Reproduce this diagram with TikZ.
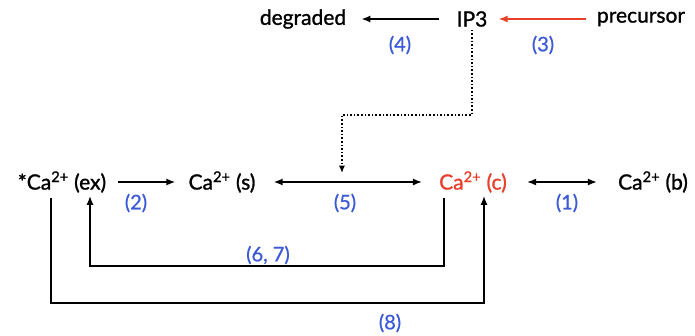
\documentclass[tikz,border=0pt]{standalone}
\usepackage{fontspec}
\setmainfont{Lato}
\newfontfamily\poolfont{Lato}[FakeBold=1.2]
\newfontfamily\ratefont{Lato}[FakeBold=0.8]
\usetikzlibrary{positioning,arrows.meta,calc}
\definecolor{ratecol}{RGB}{60,90,215}
\definecolor{cytcol}{RGB}{232,64,44}
\tikzset{
  flowarrow/.style={-{Latex[length=3.2mm,width=2.5mm]}, line width=1.6pt},
  twoarrow/.style={{Latex[length=3.2mm,width=2.5mm]}-{Latex[length=3.2mm,width=2.5mm]}, line width=1.6pt},
  signalline/.style={-{Latex[length=2.6mm,width=2.2mm]}, line width=1.6pt, dotted},
  poolnode/.style={inner sep=3pt, font=\poolfont\fontsize{21}{24}\selectfont},
  ratelabel/.style={font=\ratefont\fontsize{20}{23}\selectfont, text=ratecol, inner sep=1pt}
}
\begin{document}
\begin{tikzpicture}[x=1pt, y=-1pt]
  \useasboundingbox (0,0) rectangle (695,335);
  % top row
  \node[poolnode] (deg) at (303,19) {degraded};
  \node[poolnode] (ip3) at (472,19) {IP3};
  \node[poolnode] (pre) at (641,19) {precursor};
  % calcium pools
  \node[poolnode] (ex) at (62,182) {*Ca\textsuperscript{2+} (ex)};
  \node[poolnode] (s) at (222,182) {Ca\textsuperscript{2+} (s)};
  \node[poolnode, text=cytcol] (c) at (473,182) {Ca\textsuperscript{2+} (c)};
  \node[poolnode] (b) at (653,182) {Ca\textsuperscript{2+} (b)};
  % reactions
  \draw[flowarrow, shorten <=14pt, shorten >=12pt] (ip3) -- (deg);
  \draw[flowarrow, cytcol, shorten <=8pt, shorten >=8pt] (pre) -- (ip3);
  \draw[flowarrow, shorten <=9pt, shorten >=10pt] (ex) -- (s);
  \draw[twoarrow, shorten <=15pt, shorten >=14pt] (s) -- (c);
  \draw[twoarrow, shorten <=17pt, shorten >=18pt] (c) -- (b);
  \coordinate (hit) at ($(s.east)!0.47!(c.west)+(0,-9)$);
  \draw[signalline] (ip3.south) -- ++(0,85) -| (hit);
  \draw[flowarrow] ($(c.south)+(-29,2)$) -- ++(0,68) -| ($(ex.south)+(28,0)$);
  \draw[flowarrow] ($(ex.south)+(-11,2)$) -- ++(0,105) -| ($(c.south)+(11,0)$);
  % rate labels
  \node[ratelabel] (r4) at (400,45) {(4)};
  \node[ratelabel] (r3) at (543,45) {(3)};
  \node[ratelabel] (r2) at (136,203) {(2)};
  \node[ratelabel] (r5) at (345,203) {(5)};
  \node[ratelabel] (r1) at (567,203) {(1)};
  \node[ratelabel] (r67) at (268,255) {(6, 7)};
  \node[ratelabel] (r8) at (390,323) {(8)};
\end{tikzpicture}
\end{document}
